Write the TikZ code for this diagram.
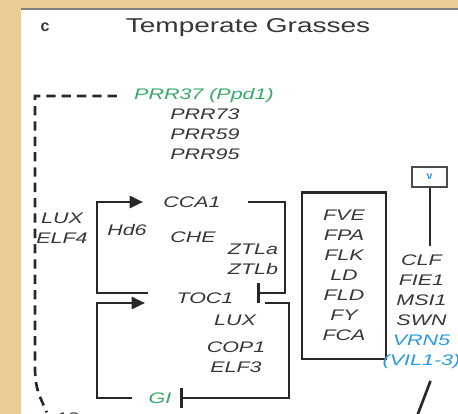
\documentclass[tikz,border=0pt]{standalone}
\usepackage{fontspec}
\setmainfont{Liberation Sans}
\newfontfamily\genfont[FakeStretch=1.4]{Liberation Sans}
\newfontfamily\titlefont[FakeStretch=1.4]{Liberation Sans}
\usetikzlibrary{positioning, arrows.meta, calc}

\definecolor{fondo}{RGB}{236,204,150}
\definecolor{gentxt}{RGB}{55,55,55}
\definecolor{verde}{RGB}{55,170,105}
\definecolor{azul}{RGB}{40,155,225}
\definecolor{trazo}{RGB}{40,40,40}

\begin{document}
\begin{tikzpicture}[x=0.75pt, y=-0.75pt,
    gene/.style={
        inner sep=0pt, align=center, text=gentxt,
        font=\genfont\itshape\fontsize{11.5}{15}\selectfont
    },
    gene verde/.style={gene, text=verde},
    link/.style={draw=trazo, line width=2pt},
    act/.style={link, -{Triangle[length=10pt, width=9pt]}},
    inh/.style={link, -{Bar[width=15pt, line width=2pt]}},
    feedback/.style={draw=trazo, line width=2pt, dash pattern=on 7pt off 4.5pt},
    caja/.style={draw=trazo, line width=2pt, minimum width=63pt, minimum height=125pt}
]

% ------------------------------------------------------------------------------
% 1. MARCO
% ------------------------------------------------------------------------------
\clip (0,0) rectangle (458,414);
\fill[fondo] (0,0) rectangle (458,414);
\fill[white] (21,9) rectangle (458,414);
\draw[gray, line width=1pt] (21,9) -- (458,9);

\node[text=gentxt, font=\bfseries\fontsize{12}{14}\selectfont] (panel) at (45,27) {c};
\node[text=gentxt, font=\titlefont\fontsize{15}{17}\selectfont] (titulo) at (248,28) {Temperate Grasses};

% ------------------------------------------------------------------------------
% 2. GENES DEL RELOJ
% ------------------------------------------------------------------------------
\node[gene verde] (prr37) at (204,96) {PRR37 (Ppd1)};
\node[gene] (prr) at (205,134) {PRR73\\PRR59\\PRR95};
\node[gene] (luxelf) at (62,228) {LUX\\ELF4};
\node[gene] (hd6) at (127,230) {Hd6};
\node[gene] (cca1) at (192,202) {CCA1};
\node[gene] (che) at (193,237) {CHE};
\node[gene] (ztl) at (253,259) {ZTLa\\ZTLb};
\node[gene] (toc1) at (205,298) {TOC1};
\node[gene] (lux) at (235,320) {LUX};
\node[gene] (cop1) at (236,357) {COP1\\ELF3};
\node[gene verde] (gi) at (160,398) {GI};
\node[gene] (mir) at (67,418) {12};

% ------------------------------------------------------------------------------
% 3. FLORACION (caja y VRN5)
% ------------------------------------------------------------------------------
\node[gene, caja] (floral) at (344,275.5) {FVE\\FPA\\FLK\\LD\\FLD\\FY\\FCA};
\node[draw=gray!60!black, line width=1.3pt, minimum width=26pt, minimum height=15pt,
      inner sep=0pt, text=azul, font=\bfseries\fontsize{8}{9}\selectfont] (vrn) at (429.5,177) {v};
\node[gene, below=50pt of vrn, xshift=-6pt] (clf)
    {CLF\\FIE1\\MSI1\\SWN\\\textcolor{azul}{VRN5}\\\textcolor{azul}{(VIL1-3)}};

% ------------------------------------------------------------------------------
% 4. CONEXIONES
% ------------------------------------------------------------------------------
% activaciones
\draw[act] ($(toc1)+(-57,-5)$) -- ++(-51,0) |- ($(cca1)+(-49,0)$);
\draw[act] ($(gi)+(-28,0)$) -- ++(-35,0) |- ($(toc1)+(-60,5)$);

% represiones
\draw[inh] ($(cca1)+(56,0)$) -- ++(37,0) |- ($(toc1)+(52,-5)$);
\draw[inh] ($(toc1)+(60,5)$) -- ++(24,0) |- ($(gi)+(20,0)$);

% lazo punteado
\draw[feedback] ($(prr37.west)+(-17,0)$) -- (prr37.west -| 35,0) -- (35,368)
    .. controls (35,392) and (42,400) .. ($(mir.north west)+(-8,0)$);

% VRN5
\draw[link, line width=1.5pt] (vrn.south) -- ($(vrn.south |- clf.north)+(0,-9)$);
\draw[link] ($(clf.south)+(9,12)$) -- ++(-16,42);

\end{tikzpicture}
\end{document}
